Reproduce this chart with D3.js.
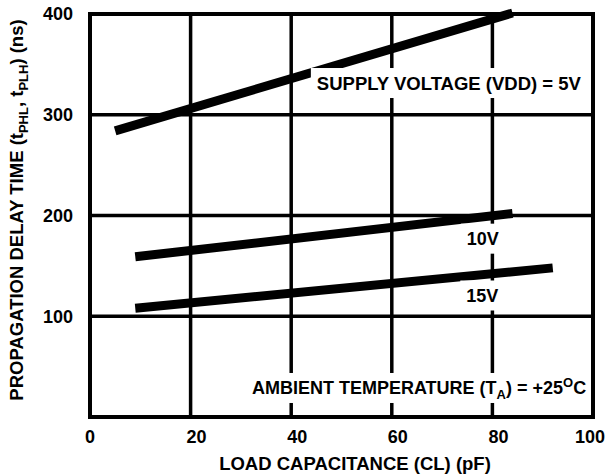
<!DOCTYPE html>
<html>
<head>
<meta charset="utf-8">
<script src="https://cdn.jsdelivr.net/npm/d3@7"></script>
<style>
  html, body { margin: 0; padding: 0; background: #fff; }
  svg { display: block; }
  text { font-family: "Liberation Sans", Arial, Helvetica, sans-serif; font-weight: bold; fill: #000; }
</style>
</head>
<body>
<div id="chart"></div>
<script>
// ---- data ----
const xTicks = [0, 20, 40, 60, 80, 100];
const yTicks = [100, 200, 300, 400];
const seriesNames = ["5V", "10V", "15V"];
const capacitance5V = [5, 84];
const delay5V = [284, 401];
const capacitance10V = [9, 84];
const delay10V = [159, 202];
const capacitance15V = [9, 92];
const delay15V = [108, 148];
const xTitle = "LOAD CAPACITANCE (CL) (pF)";

// annotation anchors in data units
const annotations = [
  { key: "supply", x: 45.1, y: 331.5, anchor: "start" },
  { key: "10V", x: 78.1, y: 177, anchor: "middle" },
  { key: "15V", x: 78.0, y: 120.6, anchor: "middle" },
  { key: "ambient", x: 32.2, y: 28.8, anchor: "start" }
];

const W = 606, H = 474;
const svg = d3.select("#chart").append("svg").attr("width", W).attr("height", H);
svg.append("rect").attr("width", W).attr("height", H).attr("fill", "#fff");

const x = d3.scaleLinear().domain([0, 100]).range([90, 593]);
const y = d3.scaleLinear().domain([0, 400]).range([417, 14]);

// grid
const grid = svg.append("g");
grid.selectAll("line.v").data(xTicks.slice(1, -1)).enter().append("line")
  .attr("x1", d => x(d)).attr("x2", d => x(d))
  .attr("y1", y(0)).attr("y2", y(400))
  .attr("stroke", "#000").attr("stroke-width", 3.5);
grid.selectAll("line.h").data(yTicks.slice(0, -1)).enter().append("line")
  .attr("x1", x(0)).attr("x2", x(100))
  .attr("y1", d => y(d)).attr("y2", d => y(d))
  .attr("stroke", "#000").attr("stroke-width", 3.5);

// series lines
const series = [
  { name: seriesNames[0], xs: capacitance5V, ys: delay5V },
  { name: seriesNames[1], xs: capacitance10V, ys: delay10V },
  { name: seriesNames[2], xs: capacitance15V, ys: delay15V }
];
const line = d3.line().x(d => x(d[0])).y(d => y(d[1]));
svg.append("g").selectAll("path").data(series).enter().append("path")
  .attr("d", s => line(s.xs.map((v, i) => [v, s.ys[i]])))
  .attr("fill", "none").attr("stroke", "#000")
  .attr("stroke-width", 9).attr("stroke-linecap", "butt");

// annotations with white backgrounds
const FS = 18;
function addLabel(a, fs, build) {
  const g = svg.append("g");
  const bg = g.append("rect").attr("fill", "#fff");
  const t = g.append("text")
    .attr("x", x(a.x)).attr("y", y(a.y)).attr("dy", "0.36em")
    .attr("text-anchor", a.anchor).attr("font-size", fs);
  build(t);
  const bb = t.node().getBBox();
  const cy = y(a.y);
  bg.attr("x", bb.x - 6).attr("width", bb.width + 12)
    .attr("y", cy - 15).attr("height", 30);
}
const annByKey = {};
annotations.forEach(a => annByKey[a.key] = a);

addLabel(annByKey.supply, 18.5, t => t.text("SUPPLY VOLTAGE (VDD) = " + seriesNames[0]));
addLabel(annByKey["10V"], FS, t => t.text(seriesNames[1]));
addLabel(annByKey["15V"], FS, t => t.text(seriesNames[2]));
addLabel(annByKey.ambient, FS, t => {
  t.append("tspan").text("AMBIENT TEMPERATURE (T");
  t.append("tspan").attr("font-size", 13).attr("dy", 5).text("A");
  t.append("tspan").attr("dy", -5).text(") = +25");
  t.append("tspan").attr("font-size", 13).attr("dy", -7).text("O");
  t.append("tspan").attr("dy", 7).text("C");
});

// border
svg.append("rect")
  .attr("x", x(0)).attr("y", y(400))
  .attr("width", x(100) - x(0)).attr("height", y(0) - y(400))
  .attr("fill", "none").attr("stroke", "#000").attr("stroke-width", 4);

// x tick labels
svg.append("g").selectAll("text").data(xTicks).enter().append("text")
  .attr("x", (d, i) => i === xTicks.length - 1 ? 605 : x(d) + (i === 0 ? 0 : 6))
  .attr("y", 443)
  .attr("text-anchor", (d, i) => i === xTicks.length - 1 ? "end" : "middle")
  .attr("font-size", FS)
  .text(d => d);

// y tick labels
svg.append("g").selectAll("text").data(yTicks).enter().append("text")
  .attr("x", 73).attr("y", d => y(d)).attr("dy", "0.36em")
  .attr("text-anchor", "end").attr("font-size", FS)
  .text(d => d);

// axis titles
svg.append("text")
  .attr("x", 355).attr("y", 470)
  .attr("text-anchor", "middle").attr("font-size", 18.5)
  .text(xTitle);

const yt = svg.append("text")
  .attr("transform", "translate(23,210) rotate(-90)")
  .attr("text-anchor", "middle").attr("font-size", 18.5);
yt.append("tspan").text("PROPAGATION DELAY TIME (t");
yt.append("tspan").attr("font-size", 13).attr("dy", 5).text("PHL");
yt.append("tspan").attr("dy", -5).text(", t");
yt.append("tspan").attr("font-size", 13).attr("dy", 5).text("PLH");
yt.append("tspan").attr("dy", -5).text(") (ns)");
</script>
</body>
</html>
